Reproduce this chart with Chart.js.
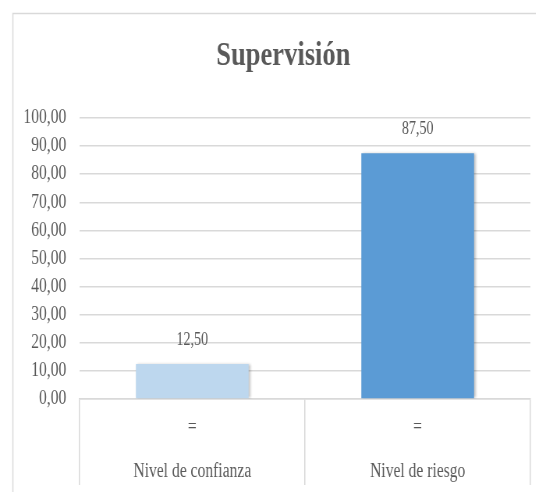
<!DOCTYPE html>
<html>
<head>
<meta charset="utf-8">
<script src="https://cdn.jsdelivr.net/npm/chart.js@4.4.0/dist/chart.umd.min.js"></script>
<style>
  html, body { margin: 0; padding: 0; background: #fff; overflow: hidden; }
  #wrap { width: 687px; height: 492px; transform: scaleX(0.78); transform-origin: 0 0; }
</style>
</head>
<body>
<div id="wrap"><canvas id="chart" width="687" height="492"></canvas></div>
<script>
const categories = [['=', 'Nivel de confianza'], ['=', 'Nivel de riesgo']];
const values     = [12.5, 87.5];
const barColors  = ['#BDD7EE', '#5B9BD5'];
const titleText  = 'Supervisión';

const fmt = v => Number(v).toFixed(2).replace('.', ',');
const ink = '#595959';
const line = '#d9d9d9';
// the exported chart frame runs past the right edge of the picture
const frameBox = { left: 16.5, top: 13.5, right: 710, bottom: 900 };

// light frame + centred title (centred on the frame, not the plot)
const frame = {
    id: 'frame',
    beforeDraw(chart) {
        const c = chart.ctx;
        c.save();
        c.strokeStyle = line; c.lineWidth = 1.5;
        c.strokeRect(frameBox.left, frameBox.top, frameBox.right - frameBox.left, frameBox.bottom - frameBox.top);
        c.font = 'bold 34px "Liberation Serif", serif';
        c.fillStyle = ink; c.textAlign = 'center'; c.textBaseline = 'alphabetic';
        c.fillText(titleText, (frameBox.left + frameBox.right) / 2, 65);
        c.restore();
    }
};

// soft shadow under the bars
const barShadow = {
    id: 'barShadow',
    beforeDatasetsDraw(chart) {
        const c = chart.ctx;
        c.save();
        c.shadowColor = 'rgba(0,0,0,0.25)';
        c.shadowOffsetX = 2; c.shadowOffsetY = 0; c.shadowBlur = 3;
    },
    afterDatasetsDraw(chart) { chart.ctx.restore(); }
};

// value labels above bars
const valueLabels = {
    id: 'valueLabels',
    afterDatasetsDraw(chart) {
        const c = chart.ctx;
        c.save();
        c.font = '18px "Liberation Serif", serif';
        c.fillStyle = ink; c.textAlign = 'center'; c.textBaseline = 'bottom';
        chart.getDatasetMeta(0).data.forEach((bar, i) => {
            c.fillText(fmt(values[i]), bar.x, bar.y - 15);
        });
        c.restore();
    }
};

new Chart(document.getElementById('chart'), {
    type: 'bar',
    data: {
        labels: categories,
        datasets: [{
            data: values,
            backgroundColor: barColors,
            borderWidth: 0,
            categoryPercentage: 1,
            barPercentage: 0.5
        }]
    },
    options: {
        responsive: false,
        animation: false,
        layout: { padding: { left: 13, right: 7, top: 118, bottom: 0 } },
        plugins: {
            legend: { display: false },
            tooltip: { enabled: false },
            title: { display: false }
        },
        scales: {
            y: {
                min: 0, max: 100,
                border: { display: false },
                grid: { color: line, lineWidth: 1.5, drawTicks: false },
                ticks: {
                    stepSize: 10, padding: 17, color: ink,
                    font: { family: '"Liberation Serif", serif', size: 20 },
                    callback: v => fmt(v)
                }
            },
            x: {
                border: { display: true, color: line, width: 1.5 },
                grid: { offset: true, drawOnChartArea: false, color: line, lineWidth: 1.5, tickLength: 86 },
                ticks: {
                    padding: -79, color: ink,
                    font: { family: '"Liberation Serif", serif', size: 20, lineHeight: 2.2 }
                },
                afterFit: s => { s.height = 93; }
            }
        }
    },
    plugins: [frame, barShadow, valueLabels]
});
</script>
</body>
</html>
